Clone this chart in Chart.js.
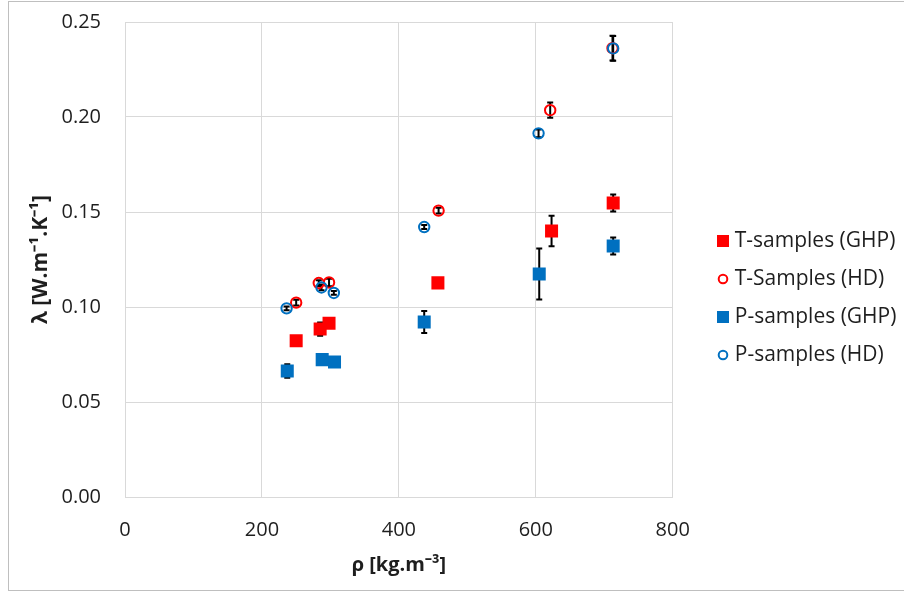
<!DOCTYPE html>
<html>
<head>
<meta charset="utf-8">
<script src="https://cdn.jsdelivr.net/npm/chart.js@4/dist/chart.umd.min.js"></script>
<style>
  html, body { margin: 0; padding: 0; background: #fff; overflow: hidden; }
  #wrap { position: relative; width: 904px; height: 594px; }
  #frame { position: absolute; left: 8px; top: 1px; width: 1000px; height: 590px;
           border: 1px solid #bfbfbf; box-sizing: border-box; pointer-events: none; }
</style>
</head>
<body>
<div id="wrap">
  <canvas id="chart" width="904" height="594"></canvas>
  <div id="frame"></div>
</div>
<script>
// Thermal conductivity λ against density ρ, two sample families, two methods
const xTickValues = [0, 200, 400, 600, 800];
const yTickValues = [0.00, 0.05, 0.10, 0.15, 0.20, 0.25];

const seriesNames = ['T-samples (GHP)', 'T-Samples (HD)', 'P-samples (GHP)', 'P-samples (HD)'];

const tGhpDensity = [250, 285, 298, 457, 623, 713];
const tGhpLambda  = [0.0822, 0.0884, 0.0915, 0.1127, 0.1400, 0.1547];
const tGhpError   = [0.0015, 0.0035, 0.0015, 0.0015, 0.0080, 0.0045];

const tHdDensity  = [250, 283, 298, 458, 621, 712];
const tHdLambda   = [0.1023, 0.1126, 0.1129, 0.1507, 0.2036, 0.2362];
const tHdError    = [0.0015, 0.0015, 0.0020, 0.0015, 0.0040, 0.0065];

const pGhpDensity = [237, 288, 306, 437, 605, 713];
const pGhpLambda  = [0.0663, 0.0723, 0.0711, 0.0921, 0.1174, 0.1321];
const pGhpError   = [0.0036, 0.0015, 0.0015, 0.0058, 0.0134, 0.0045];

const pHdDensity  = [236, 287, 305, 437, 604, 713];
const pHdLambda   = [0.0993, 0.1103, 0.1074, 0.1421, 0.1914, 0.2361];
const pHdError    = [0.0010, 0.0015, 0.0010, 0.0010, 0.0020, 0.0065];

const RED = '#ff0000';
const BLUE = '#0070c0';
const TEXT = '#1e1e1e';
const GRID = '#d9d9d9';
const FONT = "'Open Sans', sans-serif";

function points(xs, ys) {
  return xs.map((x, i) => ({ x: x, y: ys[i] }));
}

// legend marker images; the marker sits right of the image centre so it
// lands just before the label text
function legendMarker(kind, color) {
  const c = document.createElement('canvas');
  c.width = 48; c.height = 14;
  const g = c.getContext('2d');
  const cx = 40, cy = 7;
  if (kind === 'square') {
    g.fillStyle = color;
    g.fillRect(cx - 6, cy - 6, 12, 12);
  } else {
    g.strokeStyle = color;
    g.lineWidth = 2;
    g.beginPath();
    g.arc(cx, cy, 4.3, 0, Math.PI * 2);
    g.stroke();
  }
  return c;
}
const legendMarkers = [
  legendMarker('square', RED),
  legendMarker('circle', RED),
  legendMarker('square', BLUE),
  legendMarker('circle', BLUE)
];

function squareSet(label, xs, ys, errs, color, order) {
  return {
    label, data: points(xs, ys), errorBars: errs, order,
    pointStyle: 'rect', pointRadius: 9.2, pointHoverRadius: 9.2,
    backgroundColor: color, borderColor: color, pointBorderWidth: 0,
    showLine: false
  };
}
function circleSet(label, xs, ys, errs, color, order) {
  return {
    label, data: points(xs, ys), errorBars: errs, order,
    pointStyle: 'circle', pointRadius: 5.2, pointHoverRadius: 5.2,
    backgroundColor: 'rgba(255,255,255,0)', borderColor: color, pointBorderWidth: 2,
    showLine: false
  };
}

// vertical error bars with caps, drawn beneath the markers
const errorBarPlugin = {
  id: 'errorBars',
  beforeDatasetsDraw(chart) {
    const { ctx, scales: { x, y } } = chart;
    ctx.save();
    ctx.strokeStyle = '#000';
    ctx.lineWidth = 2;
    chart.data.datasets.forEach(ds => {
      ds.data.forEach((p, i) => {
        const e = ds.errorBars[i];
        const px = x.getPixelForValue(p.x);
        const top = y.getPixelForValue(p.y + e);
        const bot = y.getPixelForValue(p.y - e);
        ctx.beginPath();
        ctx.moveTo(px, top); ctx.lineTo(px, bot);
        ctx.moveTo(px - 3, top); ctx.lineTo(px + 3, top);
        ctx.moveTo(px - 3, bot); ctx.lineTo(px + 3, bot);
        ctx.stroke();
      });
    });
    ctx.restore();
  }
};

new Chart(document.getElementById('chart'), {
  type: 'scatter',
  data: {
    datasets: [
      squareSet(seriesNames[0], tGhpDensity, tGhpLambda, tGhpError, RED, 3),
      circleSet(seriesNames[1], tHdDensity, tHdLambda, tHdError, RED, 2),
      squareSet(seriesNames[2], pGhpDensity, pGhpLambda, pGhpError, BLUE, 1),
      circleSet(seriesNames[3], pHdDensity, pHdLambda, pHdError, BLUE, 0)
    ]
  },
  options: {
    responsive: false,
    animation: false,
    layout: { padding: { left: 0, top: 2, right: 7, bottom: 0 } },
    plugins: {
      tooltip: { enabled: false },
      legend: {
        position: 'right',
        labels: {
          usePointStyle: true,
          pointStyleWidth: 34.5,
          boxHeight: 12,
          padding: 17,
          color: TEXT,
          font: { family: FONT, size: 21 },
          sort: (a, b) => a.datasetIndex - b.datasetIndex,
          generateLabels(chart) {
            const items = Chart.defaults.plugins.legend.labels.generateLabels(chart);
            items.forEach(it => {
              it.pointStyle = legendMarkers[it.datasetIndex];
              it.fontColor = TEXT;
            });
            return items;
          }
        }
      }
    },
    scales: {
      x: {
        type: 'linear', min: 0, max: 800,
        afterBuildTicks(s) { s.ticks = xTickValues.map(v => ({ value: v })); },
        afterFit(s) { s.height = 97; },
        grid: { color: GRID, drawTicks: false },
        border: { color: GRID },
        ticks: { padding: 21, color: TEXT, font: { family: FONT, size: 20 } },
        title: {
          display: true, text: 'ρ [kg.m⁻³]', color: TEXT,
          font: { family: FONT, size: 20, weight: 'bold' },
          padding: { top: 0, bottom: 17 }
        }
      },
      y: {
        type: 'linear', min: 0, max: 0.25,
        afterBuildTicks(s) { s.ticks = yTickValues.map(v => ({ value: v })); },
        afterFit(s) { s.width = 125; },
        grid: { color: GRID, drawTicks: true, tickLength: 14, tickColor: 'rgba(0,0,0,0)' },
        border: { color: GRID },
        ticks: {
          padding: 10, color: TEXT, font: { family: FONT, size: 20 },
          callback: v => v.toFixed(2)
        },
        title: {
          display: true, text: 'λ [W.m⁻¹.K⁻¹]', color: TEXT,
          font: { family: FONT, size: 21, weight: 'bold' },
          padding: { top: 28, bottom: 0 }
        }
      }
    }
  },
  plugins: [errorBarPlugin]
});
</script>
</body>
</html>
